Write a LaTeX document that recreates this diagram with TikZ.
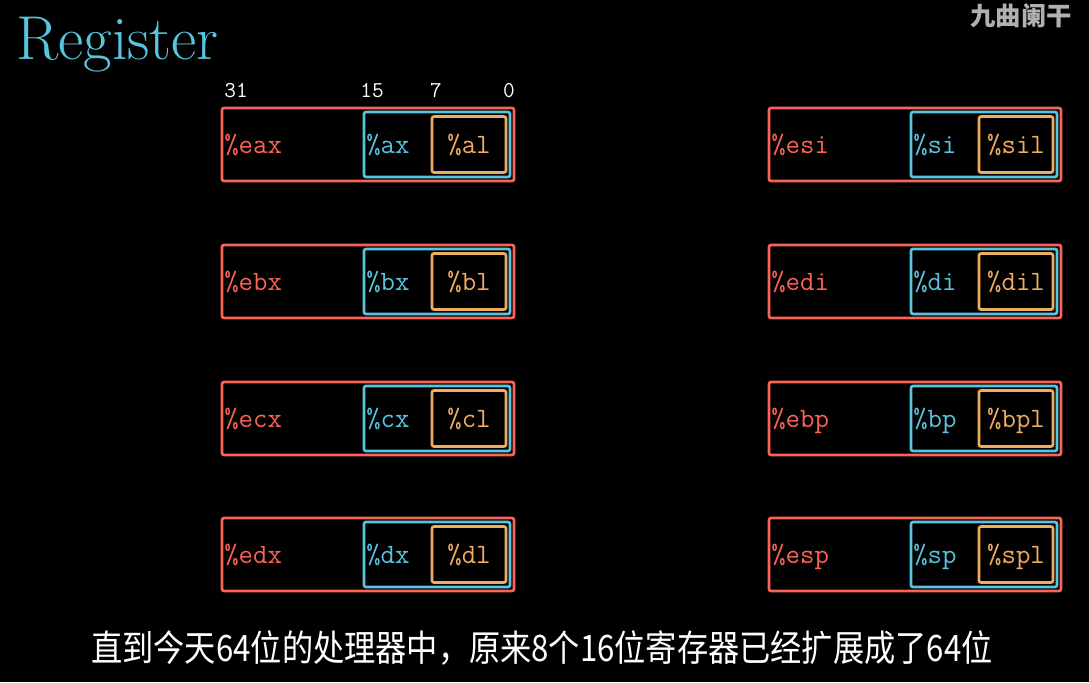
\documentclass[tikz,border=0pt]{standalone}
\usepackage{fontspec}
\usepackage{graphicx}
\newfontfamily\cjk{Noto Sans CJK SC}
\definecolor{regred}{HTML}{FC6255}
\definecolor{regblue}{HTML}{58C4DD}
\definecolor{reggold}{HTML}{F0AC5F}
\definecolor{wmgrey}{HTML}{B0B0B0}
\begin{document}
\begin{tikzpicture}[x=0.75pt,y=-0.75pt,
  redbox/.style={draw=regred,line width=2pt,rounded corners=1.5pt,minimum width=219pt,minimum height=54.75pt,inner sep=0pt},
  bluebox/.style={draw=regblue,line width=2pt,rounded corners=1.5pt,minimum width=109.5pt,minimum height=48.75pt,inner sep=0pt},
  goldbox/.style={draw=reggold,line width=2pt,rounded corners=1.5pt,minimum width=55.5pt,minimum height=42pt,inner sep=0pt},
  lbl/.style={inner sep=0pt,font=\ttfamily\fontsize{21pt}{21pt}\selectfont},
  bitlbl/.style={inner sep=0pt,anchor=base,text=white,font=\ttfamily\fontsize{17pt}{17pt}\selectfont}]
\fill[black] (0,0) rectangle (1089,682);
\useasboundingbox (0,0) rectangle (1089,682);
% title
\node (title) [anchor=base west,inner sep=0pt,text=regblue,font=\fontsize{46.5pt}{46.5pt}\selectfont] at (16,59) {Register};
% watermark
\node (wm) [anchor=north east,inner sep=0pt,text=wmgrey,font=\cjk\bfseries\fontsize{19pt}{19pt}\selectfont] at (1072,3) {九曲阑干};
% bit labels
\node (b31) [bitlbl] at (236,97) {31};
\node (b15) [bitlbl] at (372,97) {15};
\node (b7) [bitlbl] at (436,97) {7};
\node (b0) [bitlbl] at (509,97) {0};
% left column registers
\foreach \i/\yc/\a/\b/\c in {1/144.5/eax/ax/al, 2/281.5/ebx/bx/bl, 3/418.5/ecx/cx/cl, 4/554.5/edx/dx/dl} {
  \node (L\i r) [redbox] at (222+146,\yc) {};
  \node (L\i b) [bluebox] at (222+215,\yc) {};
  \node (L\i o) [goldbox] at (222+247,\yc) {};
  \node (L\i rl) [lbl,text=regred,anchor=base west] at (222+2,\yc+9) {\%\a};
  \node (L\i bl) [lbl,text=regblue,anchor=base west] at (222+144,\yc+9) {\%\b};
  \node (L\i ol) [lbl,text=reggold,anchor=base] at (222+247,\yc+9) {\%\c};
}
% right column registers
\foreach \i/\yc/\a/\b/\c in {1/144.5/esi/si/sil, 2/281.5/edi/di/dil, 3/418.5/ebp/bp/bpl, 4/554.5/esp/sp/spl} {
  \node (R\i r) [redbox] at (769+146,\yc) {};
  \node (R\i b) [bluebox] at (769+215,\yc) {};
  \node (R\i o) [goldbox] at (769+247,\yc) {};
  \node (R\i rl) [lbl,text=regred,anchor=base west] at (769+2,\yc+9) {\%\a};
  \node (R\i bl) [lbl,text=regblue,anchor=base west] at (769+144,\yc+9) {\%\b};
  \node (R\i ol) [lbl,text=reggold,anchor=base] at (769+247,\yc+9) {\%\c};
}
% subtitle
\node (sub) [inner sep=0pt,text=white,font=\cjk\fontsize{26pt}{26pt}\selectfont] at (542,648) {\scalebox{0.9}[1.05]{直到今天64位的处理器中，原来8个16位寄存器已经扩展成了64位}};
\end{tikzpicture}
\end{document}
